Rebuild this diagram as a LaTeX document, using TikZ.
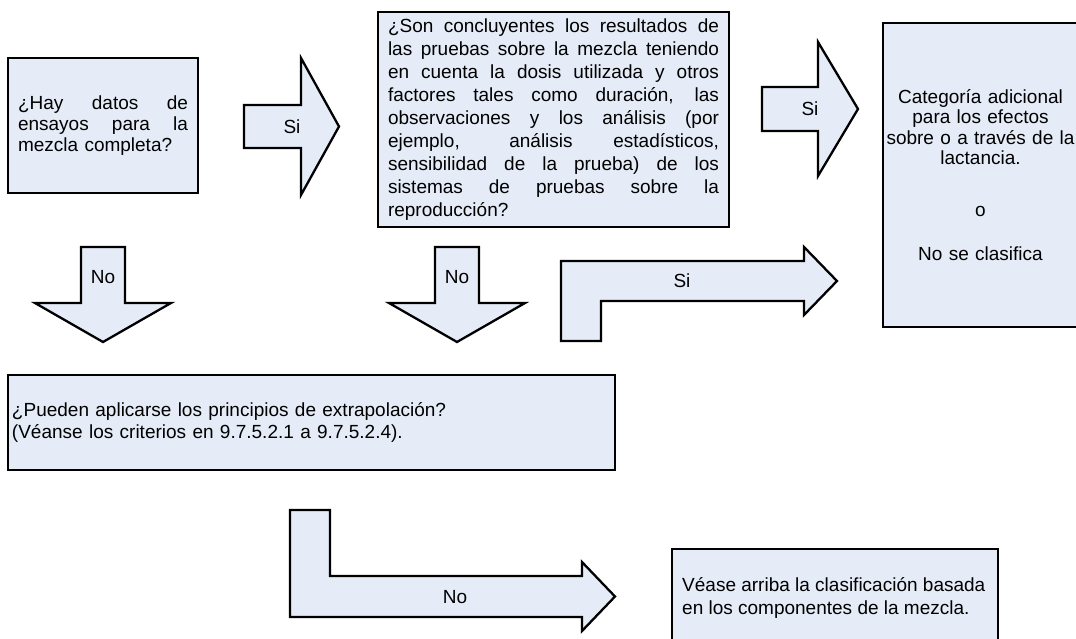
\documentclass[tikz,border=0pt]{standalone}
\usepackage{fontspec}
\setmainfont{Liberation Sans}
\definecolor{boxfill}{RGB}{229,236,247}
\newcommand\jl[2]{\leavevmode\hbox to #1{\spaceskip=5.3pt plus 1fil\relax #2}}
\tikzset{
  shapebox/.style={draw=black, fill=boxfill, line width=2.3pt, line join=miter},
  boxnode/.style={shapebox, rectangle, inner ysep=0pt, anchor=center},
  lbl/.style={inner sep=0pt, font=\fontsize{19}{22}\selectfont, anchor=center},
}
\begin{document}
\begin{tikzpicture}[x=1pt,y=-1pt]
\useasboundingbox (0,0) rectangle (1076,639);
\fill[white] (0,0) rectangle (1076,639);

% Box 1
\node[boxnode, minimum width=190pt, minimum height=135pt, text width=170pt, inner xsep=10pt,
      align=left, font=\fontsize{19}{21}\selectfont] (b1) at (103,125.5)
  {\jl{170pt}{¿Hay datos de}\\\jl{170pt}{ensayos para la}\\mezcla completa?};

% Box 2
\node[boxnode, minimum width=351pt, minimum height=215pt, text width=331pt, inner xsep=10pt,
      align=left, font=\fontsize{19}{23}\selectfont] (b2) at (553.5,119.5)
  {\jl{331pt}{¿Son concluyentes los resultados de}\\
   \jl{331pt}{las pruebas sobre la mezcla teniendo}\\
   \jl{331pt}{en cuenta la dosis utilizada y otros}\\
   \jl{331pt}{factores tales como duración, las}\\
   \jl{331pt}{observaciones y los análisis (por}\\
   \jl{331pt}{ejemplo, análisis estadísticos,}\\
   \jl{331pt}{sensibilidad de la prueba) de los}\\
   \jl{331pt}{sistemas de pruebas sobre la}\\
   reproducción?};

% Box 3
\node[boxnode, minimum width=195pt, minimum height=304pt, text width=195pt, inner xsep=0pt,
      align=center, font=\fontsize{19}{20.5}\selectfont] (b3) at (980.5,175)
  {Categoría adicional\\para los efectos\\sobre o a través de la\\lactancia.\\[31pt]o\\[24pt]No se clasifica};

% Box 4
\node[boxnode, minimum width=607pt, minimum height=95pt, text width=599pt, inner xsep=4pt,
      align=left, font=\fontsize{19}{22}\selectfont] (b4) at (311.5,422.5)
  {¿Pueden aplicarse los principios de extrapolación?\\(Véanse los criterios en 9.7.5.2.1 a 9.7.5.2.4).};

% Box 5
\node[boxnode, minimum width=326pt, minimum height=101pt] (b5) at (835,599.5) {};
\node[inner sep=0pt, anchor=west, align=left, font=\fontsize{19}{23}\selectfont] (t5) at (682,597.5)
  {Véase arriba la clasificación basada\\en los componentes de la mezcla.};

% Arrow Si 1
\draw[shapebox] (244,105) -- (301,105) -- (301,58) -- (339,126.5) -- (301,195) -- (301,148) -- (244,148) -- cycle;
\node[lbl] (s1) at (292,126.5) {Si};

% Arrow Si 2
\draw[shapebox] (762,87) -- (818,87) -- (818,42) -- (858,109) -- (818,176) -- (818,131) -- (762,131) -- cycle;
\node[lbl] (s2) at (810,109) {Si};

% Down arrow No 1
\draw[shapebox] (81,247) -- (125,247) -- (125,303) -- (171,303) -- (103,342) -- (35,303) -- (81,303) -- cycle;
\node[lbl] (n1) at (103,277) {No};

% Down arrow No 2
\draw[shapebox] (435,247) -- (479,247) -- (479,303) -- (525,303) -- (457,342) -- (389,303) -- (435,303) -- cycle;
\node[lbl] (n2) at (457,277) {No};

% Bent arrow Si
\draw[shapebox] (561,341) -- (561,261) -- (804,261) -- (804,247) -- (837,281) -- (804,315) -- (804,301) -- (601,301) -- (601,341) -- cycle;
\node[lbl] (s3) at (682,281) {Si};

% Bent arrow No
\draw[shapebox] (290,510) -- (330,510) -- (330,576) -- (582,576) -- (582,562) -- (615,596.5) -- (582,631) -- (582,617) -- (290,617) -- cycle;
\node[lbl] (n3) at (455,597) {No};
\end{tikzpicture}
\end{document}
